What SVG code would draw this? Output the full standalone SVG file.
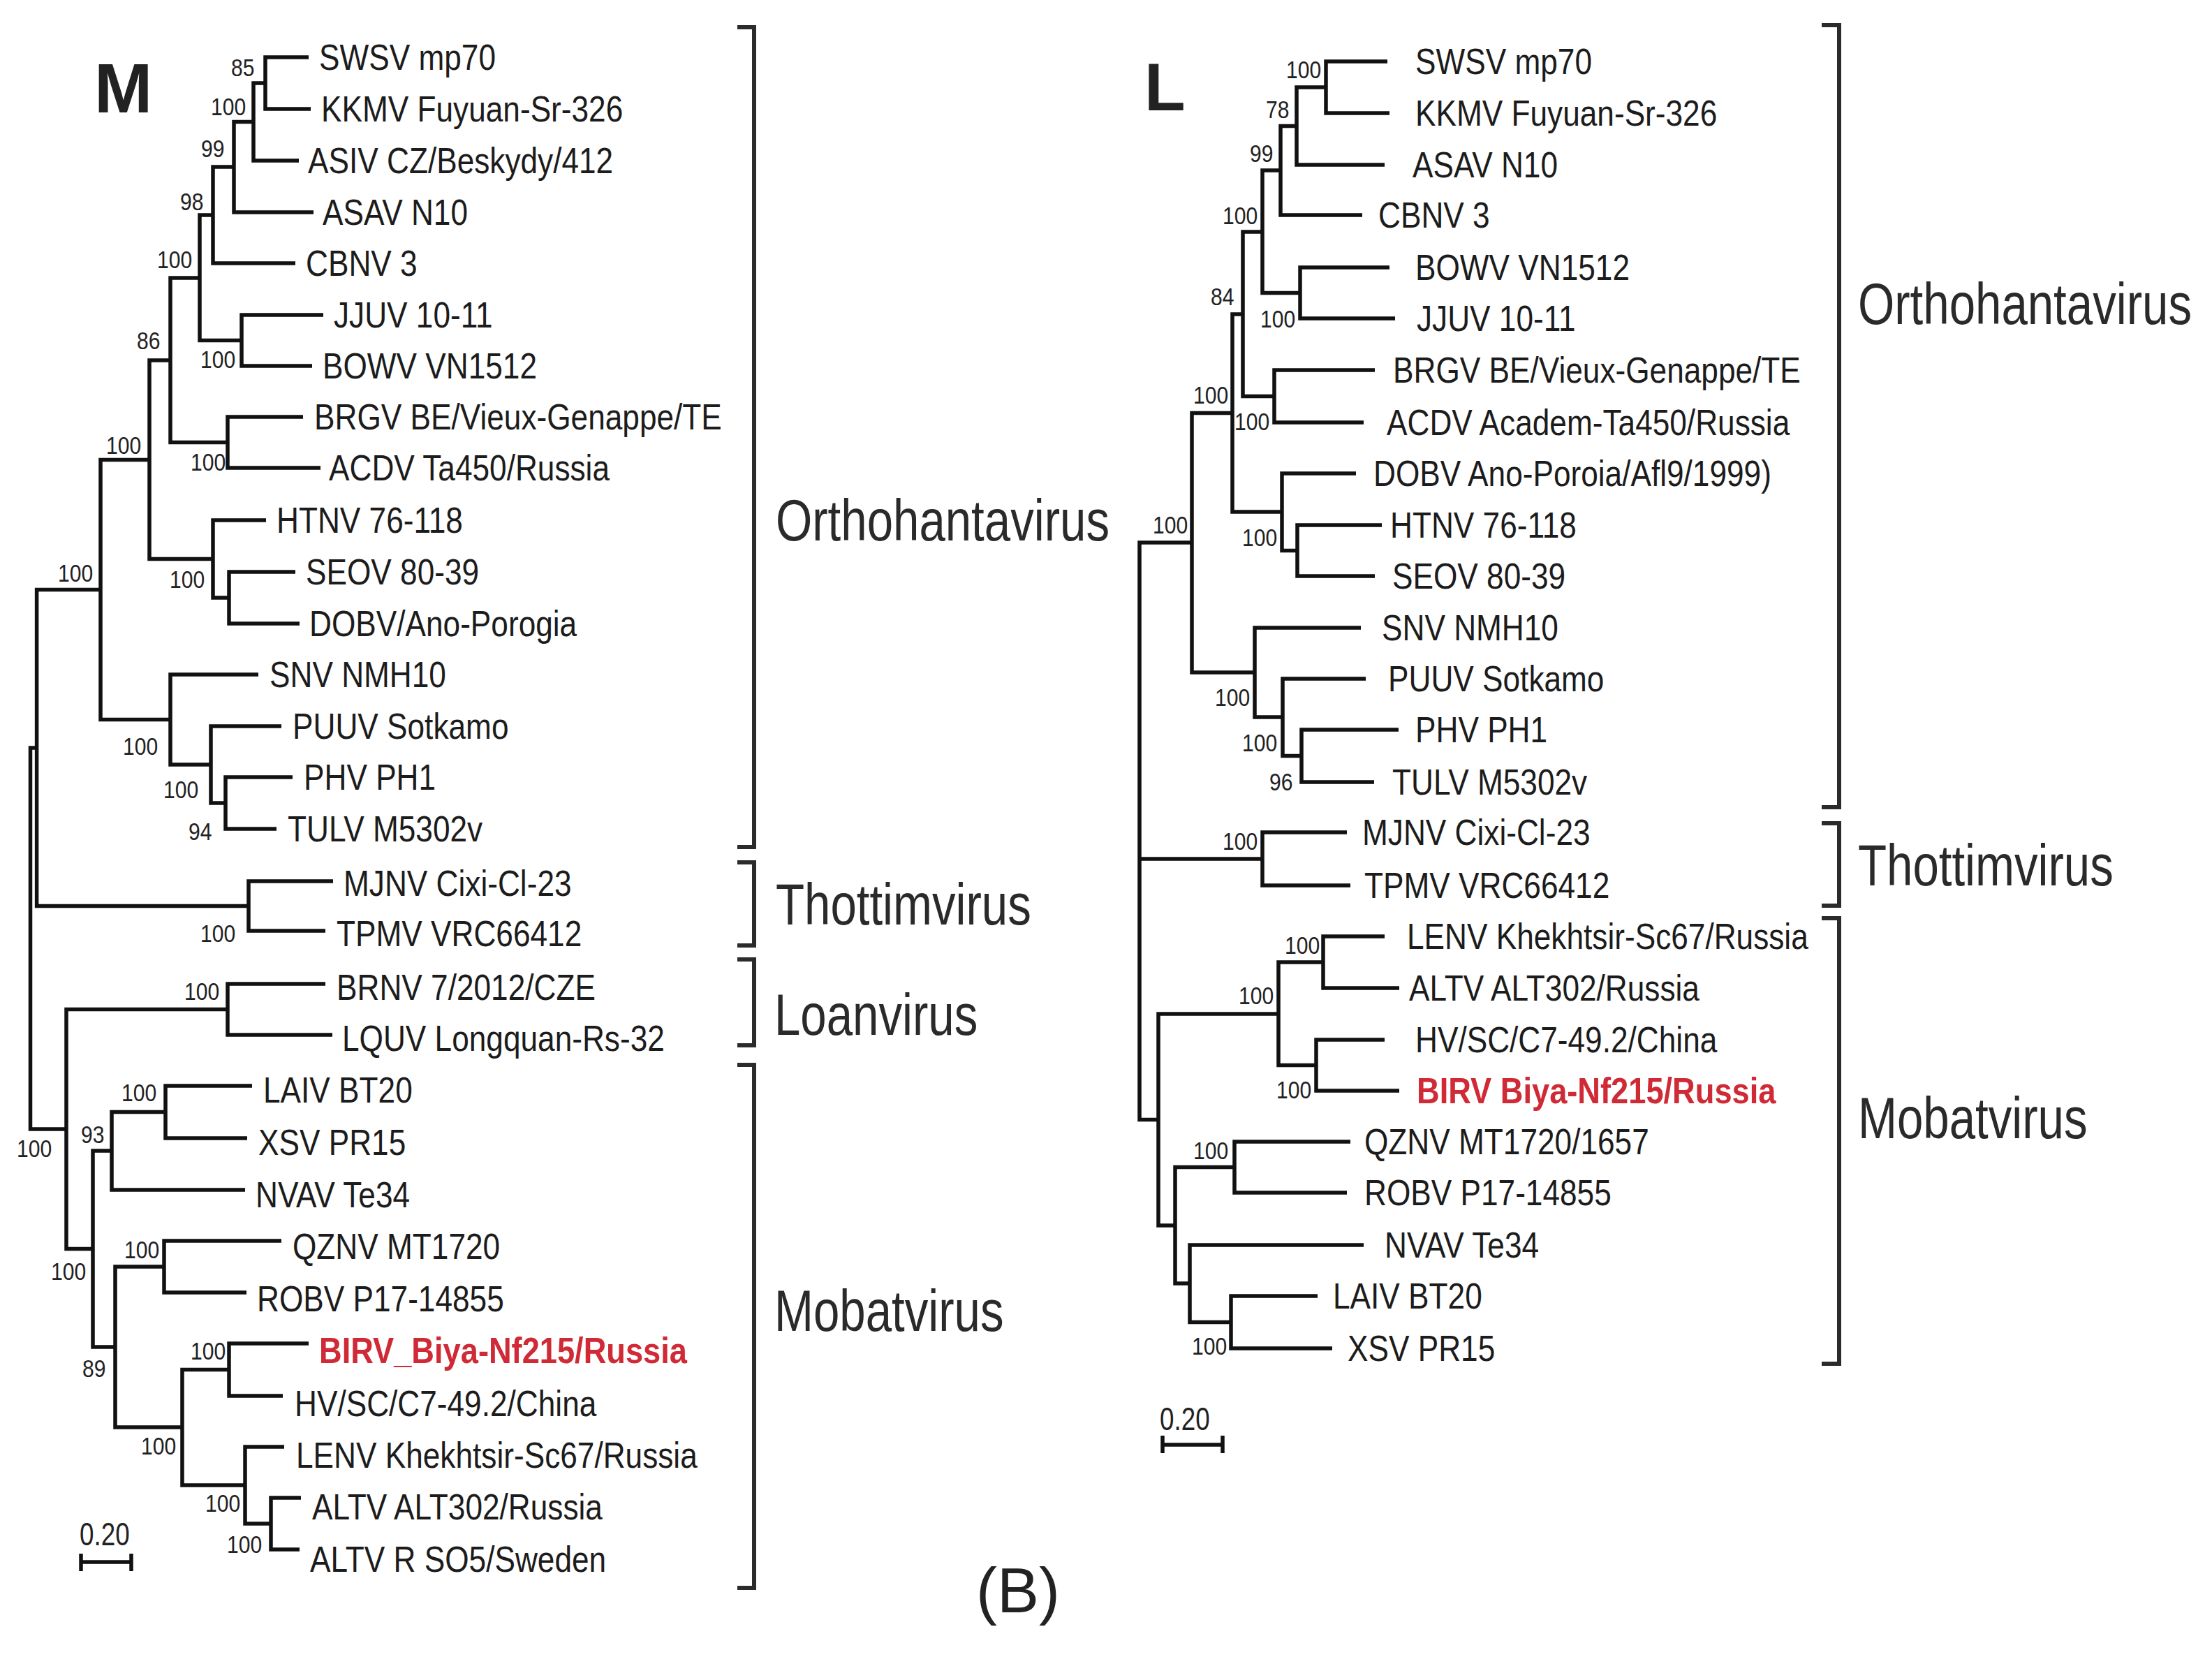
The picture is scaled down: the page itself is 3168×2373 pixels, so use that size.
<svg xmlns="http://www.w3.org/2000/svg" width="3168" height="2373" viewBox="0 0 3168 2373">
<style>
text{font-family:"Liberation Sans",Arial,sans-serif;}
.tx{font-size:52px;fill:#1c1c1c;transform-box:fill-box;transform-origin:0 0;transform:scaleX(0.85);}
.red{fill:#cf2a36;font-weight:bold;transform:scaleX(0.87);}
.bs{font-size:35px;fill:#222;transform-box:fill-box;transform-origin:0 0;transform:scaleX(0.86);}
.grp{font-size:84px;fill:#2a2a2a;transform-box:fill-box;transform-origin:0 0;transform:scaleX(0.8);}
.sb{font-size:46px;fill:#222;transform-box:fill-box;transform-origin:0 0;transform:scaleX(0.8);}
.big{font-size:100px;font-weight:bold;fill:#222;}
.cap{font-size:90px;fill:#222;}
.br{fill:none;stroke:#111;stroke-width:5.5;stroke-linejoin:miter;stroke-linecap:butt;}
.bk{fill:none;stroke:#2b2b2b;stroke-width:6;stroke-linejoin:miter;}
</style>
<rect width="3168" height="2373" fill="#fff"/>

<!-- ================= M tree ================= -->
<text class="big" x="135" y="161">M</text>

<g id="connectors-M" class="br">
<path d="M442 82 H380 V156 H445"/>
<path d="M380 119 H363 V230 H428"/>
<path d="M363 174.5 H335 V304 H449"/>
<path d="M335 239 H305 V377 H423"/>
<path d="M463 451 H346 V524 H447"/>
<path d="M305 308 H286 V487.5 H346"/>
<path d="M434 597 H326 V670 H459"/>
<path d="M286 398 H244 V633.5 H326"/>
<path d="M423 819 H328 V893 H429"/>
<path d="M381 745 H305 V856 H328"/>
<path d="M244 516 H214 V800.5 H305"/>
<path d="M419 1113 H323 V1187 H396"/>
<path d="M403 1040 H302 V1150 H323"/>
<path d="M370 966 H244 V1095 H302"/>
<path d="M214 658.5 H144 V1030.5 H244"/>
<path d="M477 1262 H356 V1333 H466"/>
<path d="M144 844.5 H52.6 V1297.5 H356"/>
<path d="M466 1409 H326 V1482 H476"/>
<path d="M361 1555 H237 V1630 H354"/>
<path d="M237 1592.5 H160 V1704 H351"/>
<path d="M403 1777 H235 V1851 H353"/>
<path d="M442 1924 H328 V1999 H405"/>
<path d="M431 2145 H388 V2219 H429"/>
<path d="M407 2072 H351 V2182 H388"/>
<path d="M328 1961.5 H261 V2127 H351"/>
<path d="M235 1814 H165 V2044 H261"/>
<path d="M160 1648 H133 V1929 H165"/>
<path d="M326 1445.5 H95 V1788.5 H133"/>
<path d="M52.6 1071 H43.5 V1617 H95"/>
</g>

<g id="taxa-M">
<g id="m-swsv"><text class="tx" x="457" y="100.5">SWSV mp70</text></g>
<g id="m-kkmv"><text class="tx" x="460" y="174.5">KKMV Fuyuan-Sr-326</text></g>
<g id="m-asiv"><text class="tx" x="441" y="248.5">ASIV CZ/Beskydy/412</text></g>
<g id="m-asav"><text class="tx" x="462" y="322.5">ASAV N10</text></g>
<g id="m-cbnv"><text class="tx" x="438" y="395.5">CBNV 3</text></g>
<g id="m-jjuv"><text class="tx" x="478" y="469.5">JJUV 10-11</text></g>
<g id="m-bowv"><text class="tx" x="462" y="542.5">BOWV VN1512</text></g>
<g id="m-brgv"><text class="tx" x="450" y="615.5">BRGV BE/Vieux-Genappe/TE</text></g>
<g id="m-acdv"><text class="tx" x="471" y="688.5">ACDV Ta450/Russia</text></g>
<g id="m-htnv"><text class="tx" x="396" y="763.5">HTNV 76-118</text></g>
<g id="m-seov"><text class="tx" x="438" y="837.5">SEOV 80-39</text></g>
<g id="m-dobv"><text class="tx" x="443" y="911.5">DOBV/Ano-Porogia</text></g>
<g id="m-snv"><text class="tx" x="386" y="984.5">SNV NMH10</text></g>
<g id="m-puuv"><text class="tx" x="419" y="1058.5">PUUV Sotkamo</text></g>
<g id="m-phv"><text class="tx" x="435" y="1131.5">PHV PH1</text></g>
<g id="m-tulv"><text class="tx" x="412" y="1205.5">TULV M5302v</text></g>
<g id="m-mjnv"><text class="tx" x="492" y="1283.5">MJNV Cixi-Cl-23</text></g>
<g id="m-tpmv"><text class="tx" x="482" y="1355.5">TPMV VRC66412</text></g>
<g id="m-brnv"><text class="tx" x="482" y="1432.5">BRNV 7/2012/CZE</text></g>
<g id="m-lquv"><text class="tx" x="490" y="1505.5">LQUV Longquan-Rs-32</text></g>
<g id="m-laiv"><text class="tx" x="377" y="1579.5">LAIV BT20</text></g>
<g id="m-xsv"><text class="tx" x="370" y="1654.5">XSV PR15</text></g>
<g id="m-nvav"><text class="tx" x="366" y="1729.5">NVAV Te34</text></g>
<g id="m-qznv"><text class="tx" x="419" y="1803.5">QZNV MT1720</text></g>
<g id="m-robv"><text class="tx" x="368" y="1878.5">ROBV P17-14855</text></g>
<g id="m-birv"><text class="tx red" x="457" y="1952.5">BIRV_Biya-Nf215/Russia</text></g>
<g id="m-hv"><text class="tx" x="422" y="2028.5">HV/SC/C7-49.2/China</text></g>
<g id="m-lenv"><text class="tx" x="424" y="2102.5">LENV Khekhtsir-Sc67/Russia</text></g>
<g id="m-altv1"><text class="tx" x="447" y="2176.5">ALTV ALT302/Russia</text></g>
<g id="m-altv2"><text class="tx" x="444" y="2251.5">ALTV R SO5/Sweden</text></g>
</g>

<g id="bootstrap-M">
<text class="bs" x="331" y="109">85</text>
<text class="bs" x="302" y="165">100</text>
<text class="bs" x="288" y="225">99</text>
<text class="bs" x="258" y="301">98</text>
<text class="bs" x="225" y="384">100</text>
<text class="bs" x="287" y="527">100</text>
<text class="bs" x="196" y="500">86</text>
<text class="bs" x="273" y="674">100</text>
<text class="bs" x="243" y="842">100</text>
<text class="bs" x="152" y="650">100</text>
<text class="bs" x="83" y="833">100</text>
<text class="bs" x="270" y="1203">94</text>
<text class="bs" x="234" y="1143">100</text>
<text class="bs" x="176" y="1081">100</text>
<text class="bs" x="287" y="1349">100</text>
<text class="bs" x="264" y="1432">100</text>
<text class="bs" x="174" y="1577">100</text>
<text class="bs" x="116" y="1637">93</text>
<text class="bs" x="178" y="1802">100</text>
<text class="bs" x="273" y="1947">100</text>
<text class="bs" x="325" y="2224">100</text>
<text class="bs" x="294" y="2165">100</text>
<text class="bs" x="202" y="2083">100</text>
<text class="bs" x="118" y="1972">89</text>
<text class="bs" x="73" y="1833">100</text>
<text class="bs" x="24" y="1657">100</text>
</g>

<g id="scale-M">
<text class="sb" x="114" y="2213">0.20</text>
<path class="br" d="M116 2237 H188 M116 2225 V2250 M188 2225 V2250"/>
</g>

<g id="clades-M">
<g id="m-ortho"><path class="bk" d="M1056 39 H1080 V1213 H1056"/><text class="grp" x="1111" y="774">Orthohantavirus</text></g>
<g id="m-thottim"><path class="bk" d="M1056 1235 H1080 V1354 H1056"/><text class="grp" x="1111" y="1324">Thottimvirus</text></g>
<g id="m-loan"><path class="bk" d="M1056 1374 H1080 V1497 H1056"/><text class="grp" x="1109" y="1482">Loanvirus</text></g>
<g id="m-moba"><path class="bk" d="M1056 1525 H1080 V2274 H1056"/><text class="grp" x="1109" y="1906">Mobatvirus</text></g>
</g>

<!-- ================= L tree ================= -->
<text class="big" x="1639" y="158" style="font-size:96px">L</text>

<g id="connectors-L" class="br">
<path d="M1987 88 H1899 V162 H1990"/>
<path d="M1899 125 H1857 V236 H1983"/>
<path d="M1857 180.5 H1834 V308 H1951"/>
<path d="M1990 383 H1862 V456 H1998"/>
<path d="M1834 244 H1808 V419.5 H1862"/>
<path d="M1969 530 H1825 V605 H1953"/>
<path d="M1808 332 H1780 V567.5 H1825"/>
<path d="M1979 752 H1858 V825 H1969"/>
<path d="M1942 678 H1836 V788.5 H1858"/>
<path d="M1780 450 H1765 V733 H1836"/>
<path d="M2003 1045 H1864 V1120 H1968"/>
<path d="M1956 972 H1837 V1082.5 H1864"/>
<path d="M1949 899 H1797 V1027 H1837"/>
<path d="M1765 591.5 H1707 V963 H1797"/>
<path d="M1929 1192 H1808 V1268 H1934"/>
<path d="M1983 1341 H1895 V1415 H2004"/>
<path d="M1983 1489 H1885 V1562 H2004"/>
<path d="M1895 1378 H1831 V1525.5 H1885"/>
<path d="M1934 1635 H1768 V1708 H1929"/>
<path d="M1887 1856 H1763 V1931 H1908"/>
<path d="M1953 1783 H1704 V1893.5 H1763"/>
<path d="M1768 1671.5 H1683 V1838 H1704"/>
<path d="M1831 1452 H1659 V1755 H1683"/>
<path d="M1707 777 H1632 V1603.5 H1659 M1632 1230 H1808"/>
</g>

<g id="taxa-L">
<g id="l-swsv"><text class="tx" x="2027" y="106.5">SWSV mp70</text></g>
<g id="l-kkmv"><text class="tx" x="2027" y="180.5">KKMV Fuyuan-Sr-326</text></g>
<g id="l-asav"><text class="tx" x="2023" y="254.5">ASAV N10</text></g>
<g id="l-cbnv"><text class="tx" x="1974" y="326.5">CBNV 3</text></g>
<g id="l-bowv"><text class="tx" x="2027" y="401.5">BOWV VN1512</text></g>
<g id="l-jjuv"><text class="tx" x="2029" y="474.5">JJUV 10-11</text></g>
<g id="l-brgv"><text class="tx" x="1995" y="548.5">BRGV BE/Vieux-Genappe/TE</text></g>
<g id="l-acdv"><text class="tx" x="1986" y="623.5">ACDV Academ-Ta450/Russia</text></g>
<g id="l-dobv"><text class="tx" x="1967" y="696.5">DOBV Ano-Poroia/Afl9/1999)</text></g>
<g id="l-htnv"><text class="tx" x="1991" y="770.5">HTNV 76-118</text></g>
<g id="l-seov"><text class="tx" x="1994" y="843.5">SEOV 80-39</text></g>
<g id="l-snv"><text class="tx" x="1979" y="917.5">SNV NMH10</text></g>
<g id="l-puuv"><text class="tx" x="1988" y="990.5">PUUV Sotkamo</text></g>
<g id="l-phv"><text class="tx" x="2027" y="1063.5">PHV PH1</text></g>
<g id="l-tulv"><text class="tx" x="1994" y="1138.5">TULV M5302v</text></g>
<g id="l-mjnv"><text class="tx" x="1951" y="1210.5">MJNV Cixi-Cl-23</text></g>
<g id="l-tpmv"><text class="tx" x="1954" y="1286.5">TPMV VRC66412</text></g>
<g id="l-lenv"><text class="tx" x="2015" y="1359.5">LENV Khekhtsir-Sc67/Russia</text></g>
<g id="l-altv"><text class="tx" x="2018" y="1433.5">ALTV ALT302/Russia</text></g>
<g id="l-hv"><text class="tx" x="2027" y="1507.5">HV/SC/C7-49.2/China</text></g>
<g id="l-birv"><text class="tx red" x="2029" y="1580.5">BIRV Biya-Nf215/Russia</text></g>
<g id="l-qznv"><text class="tx" x="1954" y="1653.5">QZNV MT1720/1657</text></g>
<g id="l-robv"><text class="tx" x="1954" y="1726.5">ROBV P17-14855</text></g>
<g id="l-nvav"><text class="tx" x="1983" y="1801.5">NVAV Te34</text></g>
<g id="l-laiv"><text class="tx" x="1909" y="1874.5">LAIV BT20</text></g>
<g id="l-xsv"><text class="tx" x="1930" y="1949.5">XSV PR15</text></g>
</g>

<g id="bootstrap-L">
<text class="bs" x="1842" y="112">100</text>
<text class="bs" x="1813" y="169">78</text>
<text class="bs" x="1790" y="232">99</text>
<text class="bs" x="1751" y="321">100</text>
<text class="bs" x="1805" y="469">100</text>
<text class="bs" x="1734" y="437">84</text>
<text class="bs" x="1709" y="578">100</text>
<text class="bs" x="1768" y="616">100</text>
<text class="bs" x="1651" y="764">100</text>
<text class="bs" x="1779" y="782">100</text>
<text class="bs" x="1740" y="1011">100</text>
<text class="bs" x="1779" y="1076">100</text>
<text class="bs" x="1818" y="1132">96</text>
<text class="bs" x="1751" y="1217">100</text>
<text class="bs" x="1840" y="1366">100</text>
<text class="bs" x="1774" y="1438">100</text>
<text class="bs" x="1828" y="1573">100</text>
<text class="bs" x="1709" y="1660">100</text>
<text class="bs" x="1707" y="1940">100</text>
</g>

<g id="scale-L">
<text class="sb" x="1661" y="2048">0.20</text>
<path class="br" d="M1665 2069 H1751 M1665 2056 V2081 M1751 2056 V2081"/>
</g>

<g id="clades-L">
<g id="l-ortho"><path class="bk" d="M2609 36 H2634 V1156 H2609"/><text class="grp" x="2661" y="464">Orthohantavirus</text></g>
<g id="l-thottim"><path class="bk" d="M2609 1179 H2634 V1297 H2609"/><text class="grp" x="2661" y="1268">Thottimvirus</text></g>
<g id="l-moba"><path class="bk" d="M2609 1315 H2634 V1953 H2609"/><text class="grp" x="2661" y="1630">Mobatvirus</text></g>
</g>

<text class="cap" x="1398" y="2309">(B)</text>
</svg>
